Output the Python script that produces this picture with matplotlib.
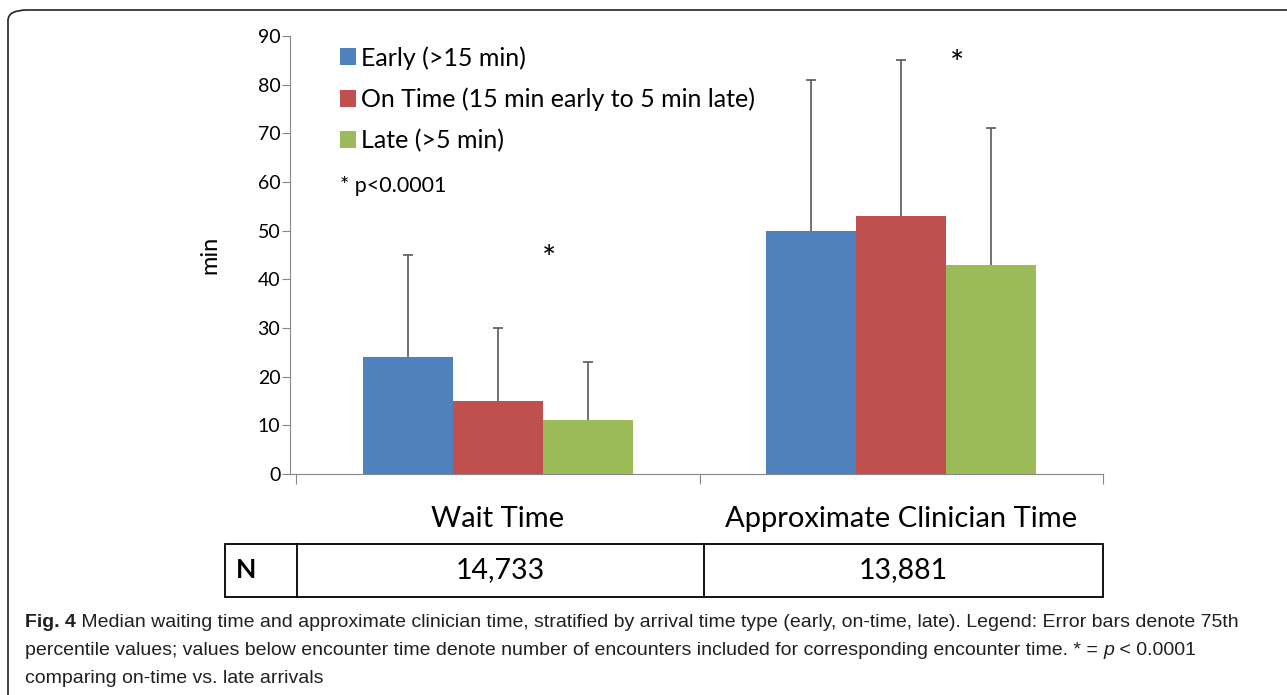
import numpy as np
import matplotlib.pyplot as plt
from matplotlib.patches import FancyBboxPatch, Rectangle
import matplotlib.transforms as mtransforms

plt.rcParams['font.family'] = ['Lato', 'DejaVu Sans']

# data
categories = ['Wait Time', 'Approximate Clinician Time']
series = ['Early (>15 min)', 'On Time (15 min early to 5 min late)', 'Late (>5 min)']
medians = [[24, 50], [15, 53], [11, 43]]
p75 = [[45, 81], [30, 85], [23, 71]]
n_counts = ['14,733', '13,881']
colors = ['#4F81BD', '#C0504D', '#9BBB59']

W, H = 1287, 695
fig = plt.figure(figsize=(W / 100, H / 100), dpi=100)


def fx(px):
    return px / W


def fy(py):
    return 1 - py / H


# rounded outer frame
frame = FancyBboxPatch((fx(8), fy(720)), fx(1320), fy(10) - fy(720),
                       boxstyle='round,pad=0,rounding_size=0.015',
                       transform=fig.transFigure, fill=False,
                       edgecolor='#222222', linewidth=1.2)
fig.patches.append(frame)

ax = fig.add_axes([fx(290), fy(474), fx(1103) - fx(290), fy(36) - fy(474)])
x = np.arange(len(categories))
bw = 90 / 403.5
for i, name in enumerate(series):
    pos = x + (i - 1) * bw
    med = np.array(medians[i])
    top = np.array(p75[i])
    ax.bar(pos, med, bw, color=colors[i], label=name, zorder=2)
    # whisker to the 75th percentile, cap only at the top
    ax.vlines(pos, med, top, color='#595959', linewidth=1.2, zorder=3)
    ax.plot(pos, top, linestyle='none', marker='_', markersize=7,
            markeredgewidth=1.2, color='#595959', zorder=3)

ax.set_xlim(-0.5 - 6 / 403.5, 1.5)
ax.set_ylim(0, 90)
ax.set_yticks(np.arange(0, 91, 10))
ax.set_xticks([-0.5, 0.5, 1.5])
ax.set_xticklabels([])
ax.set_xticks(x, minor=True)
ax.set_xticklabels(categories, minor=True, fontsize=21)
ax.tick_params(axis='x', which='minor', length=0, pad=23)
ax.tick_params(axis='x', which='major', length=7, color='#868686', direction='out')
ax.tick_params(axis='y', length=6, color='#868686', labelsize=14, pad=1)
for s in ['top', 'right']:
    ax.spines[s].set_visible(False)
for s in ['left', 'bottom']:
    ax.spines[s].set_color('#868686')
ax.set_ylabel('min', fontsize=17, labelpad=27)

# significance markers
ax.text(0.127, 44.0, '*', ha='center', va='center', fontsize=24)
ax.text(1.138, 84.0, '*', ha='center', va='center', fontsize=24)

leg = ax.legend(loc='upper left', frameon=False,
                fontsize=18, handlelength=0.65, handleheight=0.65,
                handletextpad=0.2, labelspacing=0.72, borderaxespad=0)
leg.set_bbox_to_anchor(((336 - 290 - 6) / (1103 - 290), 1.0))
ax.text((340 - 290) / (1103 - 290), 59.2, '* p<0.0001', fontsize=15.5,
        transform=mtransforms.blended_transform_factory(ax.transAxes, ax.transData),
        va='center')

# table of N
tx0, tx1, ty0, ty1 = fx(225), fx(1103), fy(597), fy(544)
fig.patches.append(Rectangle((tx0, ty0), tx1 - tx0, ty1 - ty0, transform=fig.transFigure,
                             fill=False, edgecolor='black', linewidth=1.3))
for px in [297, 704]:
    fig.lines.append(plt.Line2D([fx(px), fx(px)], [ty0, ty1], transform=fig.transFigure,
                                color='black', linewidth=1.3))
fig.text(fx(246), fy(570), 'N', fontsize=19, fontweight='bold', ha='center', va='center')
fig.text(fx(500), fy(570), n_counts[0], fontsize=20.5, ha='center', va='center')
fig.text(fx(903), fy(570), n_counts[1], fontsize=20.5, ha='center', va='center')

# caption
cap_font = dict(fontsize=14, color='#231f20', family=['Liberation Sans', 'DejaVu Sans'])
t = fig.text(fx(25), fy(627), 'Fig. 4', fontweight='bold', va='baseline', **cap_font)
fig.canvas.draw()
fig.text(t.get_window_extent().x1 / W, fy(627),
         ' Median waiting time and approximate clinician time, stratified by arrival time type '
         '(early, on-time, late). Legend: Error bars denote 75th', va='baseline', **cap_font)
t2 = fig.text(fx(25), fy(655), 'percentile values; values below encounter time denote number of '
              'encounters included for corresponding encounter time. * = ', va='baseline', **cap_font)
fig.canvas.draw()
t3 = fig.text(t2.get_window_extent().x1 / W, fy(655), 'p', style='italic', va='baseline', **cap_font)
fig.canvas.draw()
fig.text(t3.get_window_extent().x1 / W, fy(655), ' < 0.0001', va='baseline', **cap_font)
fig.text(fx(25), fy(683), 'comparing on-time vs. late arrivals', va='baseline', **cap_font)

fig.savefig('out.png', dpi=100)
